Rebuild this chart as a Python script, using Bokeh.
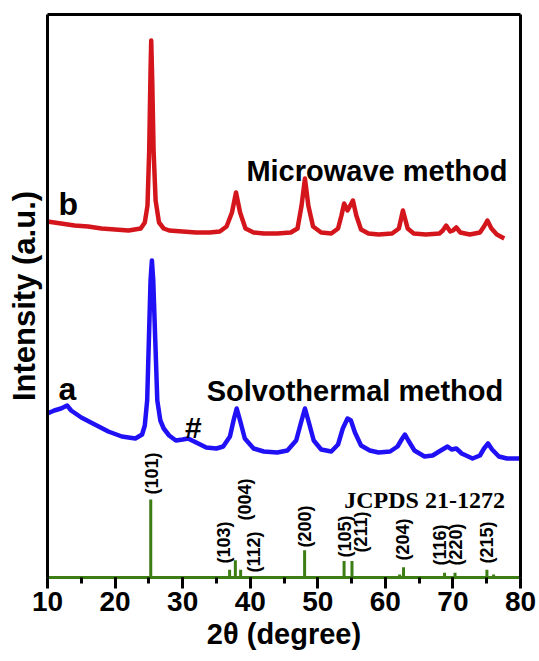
import numpy as np
from bokeh.plotting import figure
from bokeh.models import (LinearAxis, Range1d, SingleIntervalTicker, FixedTicker,
                          ColumnDataSource)
from bokeh.core.properties import value
from bokeh.embed import file_html
from bokeh.resources import INLINE

# ---------------- data ----------------
# pattern b : microwave method (offset trace, a.u.)
b_2theta = [10.0, 12, 14, 16, 18, 20, 22, 23.8, 24.4, 24.8, 25.05, 25.25, 25.35, 25.5,
            25.7, 26.0, 26.5, 27.2, 28, 30, 32, 34, 35.5, 36.5, 37.3, 37.9, 38.5, 39.3,
            40.5, 42, 44, 46, 47.0, 47.6, 48.1, 48.6, 49.3, 50.5, 52, 53.0, 53.5, 53.9,
            54.4, 54.8, 55.2, 55.7, 56.4, 57.5, 59, 61, 62.0, 62.6, 63.3, 64.2, 66, 68,
            68.5, 69.0, 69.6, 70.0, 70.5, 71.1, 72.5, 74, 74.6, 75.1, 75.7, 76.5, 77.6]
b_int = [356, 354, 352, 351, 349, 348, 347, 349, 355, 372, 427, 507, 537, 497,
         427, 377, 355, 349, 347, 346, 345, 345, 346, 351, 365, 385, 365, 349,
         345, 344, 344, 345, 349, 372, 399, 372, 351, 345, 344, 349, 362, 374,
         367, 372, 377, 362, 348, 344, 343, 344, 349, 367, 349, 344, 343, 344,
         347, 352, 346, 347, 350, 345, 343, 345, 351, 357, 349, 343, 339]

# pattern a : solvothermal method (offset trace, a.u.)
a_2theta = [10, 11, 12, 12.9, 13.5, 15, 17, 19, 21, 23, 24.0, 24.4, 24.75, 25.0, 25.25,
            25.45, 25.65, 25.95, 26.25, 26.7, 27.2, 28, 29, 30, 30.8, 32, 33.5, 35, 36,
            37, 37.6, 38.0, 38.5, 39.2, 40.5, 42, 44, 45.5, 46.8, 47.6, 48.1, 48.6, 49.4,
            50.5, 52, 53, 53.7, 54.4, 54.9, 55.5, 56.4, 57.7, 59, 60.7, 61.8, 62.5, 62.9,
            63.4, 64.3, 65.8, 67, 68.2, 69.2, 69.8, 70.5, 71.3, 72.9, 74.0, 74.6, 75.2,
            75.8, 76.8, 78, 80]
a_int = [164, 167, 169, 172, 167, 160, 153, 146, 141, 139, 143, 152, 177, 237, 297,
         317, 297, 237, 177, 157, 149, 142, 137, 138, 139, 135, 130, 129, 131,
         141, 159, 169, 157, 139, 129, 126, 125, 127, 137, 157, 169, 157, 137,
         128, 126, 133, 149, 159, 157, 145, 132, 127, 125, 126, 131, 139, 143,
         137, 127, 121, 122, 127, 131, 128, 129, 124, 119, 122, 129, 134,
         128, 121, 119, 119]

# JCPDS 21-1272 reference lines (relative intensity)
ref_2theta = [25.28, 36.95, 37.80, 38.58, 48.05, 53.89, 55.06, 62.12, 62.69, 68.76, 70.31, 75.03, 76.02]
ref_rel = [100, 10, 22, 10, 35, 21, 21, 4, 13, 6, 6, 10, 4]

hkl_labels = ["(101)", "(103)", "(004)", "(112)", "(200)", "(105)", "(211)",
              "(204)", "(116)", "(220)", "(215)"]

x_ticks = [10, 20, 30, 40, 50, 60, 70, 80]

# ---------------- layout constants ----------------
STICK_SCALE = 0.78
hkl_x = [25.5, 36.07, 39.17, 40.58, 48.1, 54.0, 56.4, 62.6, 68.05, 70.4, 75.1]
hkl_y = [83, 14, 57, 5, 30, 20, 25, 17, 12, 12, 14]

RED = "#d4161c"
BLUE = "#2010f5"
GREEN = "#3c7d14"
SANS = "Liberation Sans"

p = figure(width=539, height=661, output_backend="svg", toolbar_location=None,
           x_range=Range1d(10, 80), y_range=Range1d(0, 563),
           min_border_left=47, min_border_right=19, min_border_top=14, min_border_bottom=84,
           outline_line_color=None, background_fill_color="white", border_fill_color="white")
p.grid.visible = False

# bottom axis
xa = p.xaxis[0]
xa.ticker = SingleIntervalTicker(interval=10, num_minor_ticks=2)
xa.axis_line_color = GREEN
xa.axis_line_width = 3
xa.major_tick_line_width = 3
xa.minor_tick_line_width = 3
xa.major_tick_line_color = "black"
xa.minor_tick_line_color = "black"
xa.major_tick_out = 11
xa.major_tick_in = 0
xa.minor_tick_out = 6
xa.minor_tick_in = 0
xa.major_label_text_font = SANS
xa.major_label_text_font_style = "bold"
xa.major_label_text_font_size = "28px"
xa.major_label_text_color = "black"
xa.major_label_standoff = 3
xa.axis_label = "2θ (degree)"
xa.axis_label_text_font = SANS
xa.axis_label_text_font_style = "bold"
xa.axis_label_text_font_size = "29px"
xa.axis_label_text_color = "black"
xa.axis_label_standoff = 4

# left axis
ya = p.yaxis[0]
ya.ticker = FixedTicker(ticks=[])
ya.axis_line_width = 3
ya.axis_line_color = "black"
ya.major_label_text_font_size = "0px"
ya.axis_label = "Intensity (a.u.)"
ya.axis_label_text_font = SANS
ya.axis_label_text_font_style = "bold"
ya.axis_label_text_font_size = "31px"
ya.axis_label_text_color = "black"
ya.axis_label_standoff = 6

for loc in ("right", "above"):
    ax = LinearAxis(ticker=FixedTicker(ticks=[]), major_label_text_font_size="0px",
                    axis_line_width=3, axis_line_color="black",
                    major_tick_out=0, minor_tick_out=0)
    p.add_layout(ax, loc)

# traces
p.line(b_2theta, b_int, line_color=RED, line_width=4.5, line_join="round")
p.line(a_2theta, a_int, line_color=BLUE, line_width=4.5, line_join="round")

# reference sticks
ref_h = [r * STICK_SCALE for r in ref_rel]
p.segment(x0=ref_2theta, y0=[0] * len(ref_2theta), x1=ref_2theta, y1=ref_h,
          line_color=GREEN, line_width=3)

# hkl labels
p.text(x=hkl_x, y=hkl_y, text=hkl_labels, angle=np.pi / 2, text_align="left",
       text_baseline="middle", text_font=value(SANS), text_font_style="bold",
       text_font_size="18px", text_color="black")

# annotations
p.text(x=[11.62, 11.62], y=[374, 189], text=["b", "a"], text_align="left",
       text_baseline="alphabetic", text_font=value(SANS), text_font_style="bold",
       text_font_size="32px", text_color="black")
p.text(x=[58.75, 55.5], y=[407, 187], text=["Microwave method", "Solvothermal method"],
       text_align="center", text_baseline="alphabetic", text_font=value(SANS),
       text_font_style="bold", text_font_size="29px", text_color="black")
p.text(x=[31.6], y=[150], text=["#"], text_align="center", text_baseline="alphabetic",
       text_font=value(SANS), text_font_style="bold", text_font_size="30px",
       text_color="black")
p.text(x=[65.8], y=[78], text=["JCPDS 21-1272"], text_align="center",
       text_baseline="alphabetic", text_font=value("Liberation Serif"),
       text_font_style="bold", text_font_size="24px", text_color="black")

open("out.html", "w").write(file_html(p, INLINE))
